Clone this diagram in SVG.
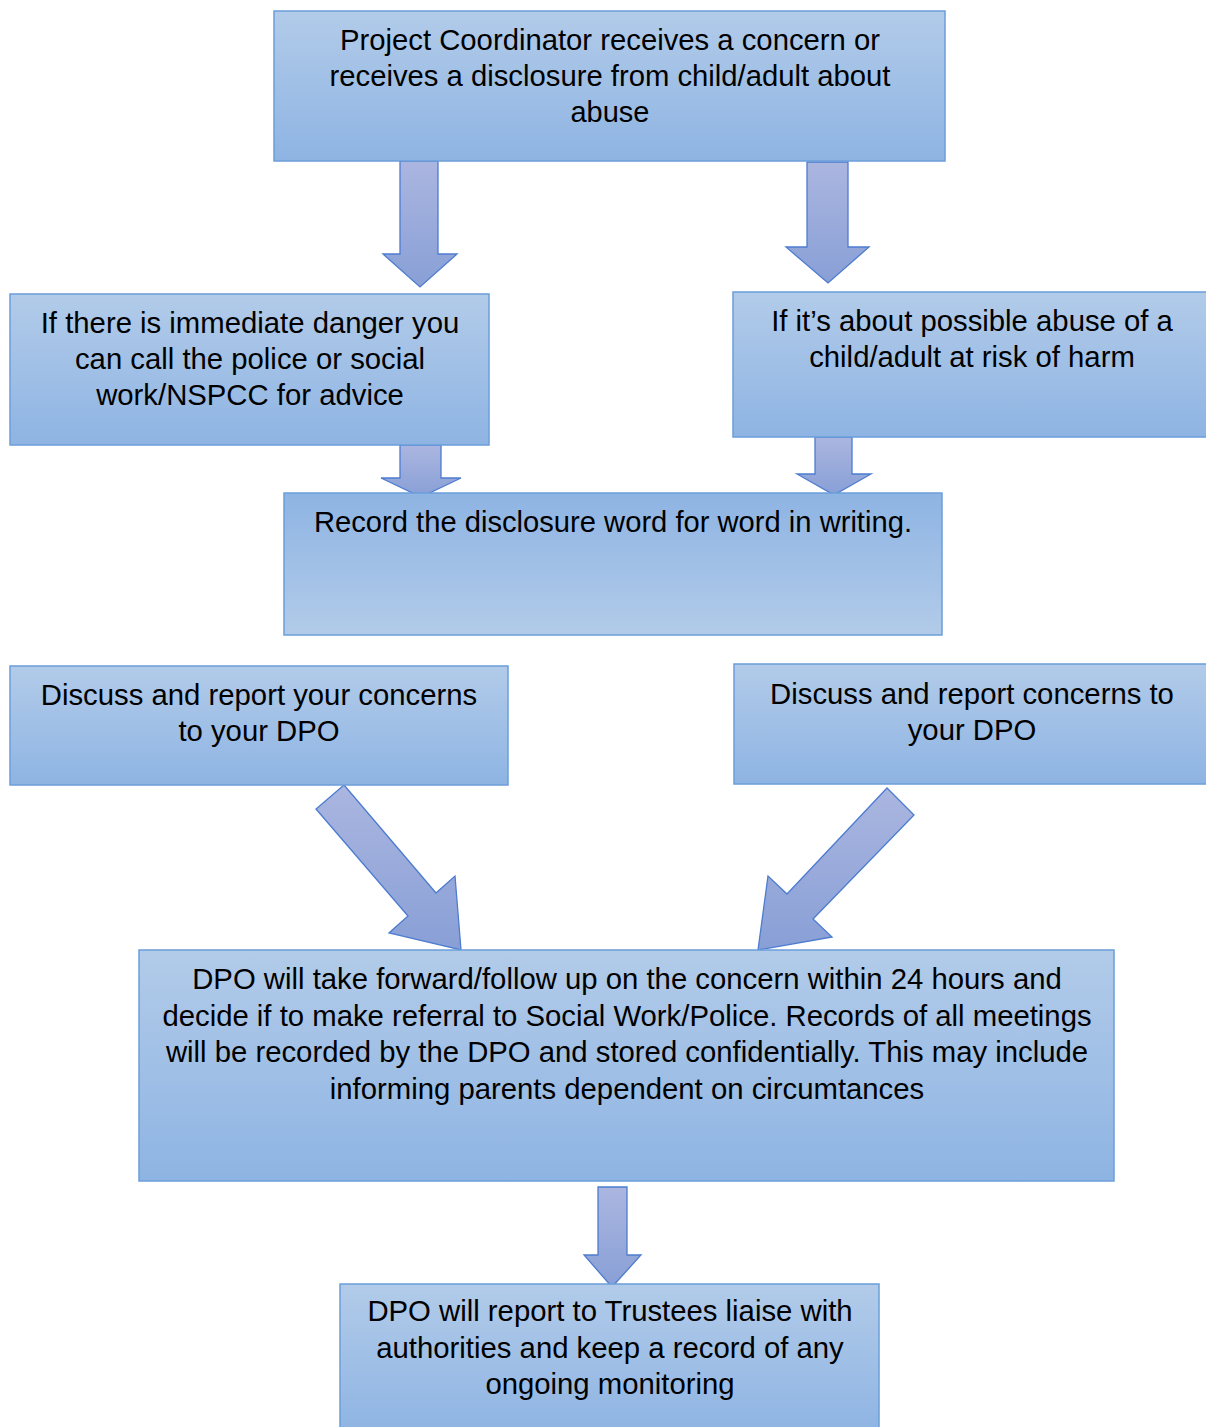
<svg xmlns="http://www.w3.org/2000/svg" width="1206" height="1427" viewBox="0 0 1206 1427">
<defs>
<linearGradient id="boxg" x1="0" y1="0" x2="0" y2="1">
<stop offset="0" stop-color="#b2cbe9"/>
<stop offset="1" stop-color="#8eb4e3"/>
</linearGradient>
<linearGradient id="boxr" x1="0" y1="0" x2="0" y2="1">
<stop offset="0" stop-color="#8eb4e3"/>
<stop offset="1" stop-color="#b2cbe9"/>
</linearGradient>
<linearGradient id="arrg" x1="0" y1="0" x2="0" y2="1">
<stop offset="0" stop-color="#abb6e0"/>
<stop offset="1" stop-color="#889fd6"/>
</linearGradient>
<style>
.box{fill:url(#boxg);stroke:#6b9fd9;stroke-width:1.5}
.boxr{fill:url(#boxr);stroke:#6b9fd9;stroke-width:1.5}
.arr{fill:url(#arrg);stroke:#4d7ccf;stroke-width:1.3;stroke-linejoin:miter}
text{font-family:"Liberation Sans",Arial,sans-serif;font-size:29.3px;fill:#000;text-anchor:middle}
</style>
</defs>
<g id="connectors">
<polygon class="arr" points="400,161 438,161 438,254 457,254 420,287 383,254 400,254"/>
<polygon class="arr" points="807,162 848,162 848,247 869,247 828,283 786,247 807,247"/>
<polygon class="arr" points="400,445 441,445 441,478 461,478 421,497 381,478 400,478"/>
<polygon class="arr" points="815,437 852,437 852,474 871,474 834,495 797,474 815,474"/>
<polygon class="arr" points="344,785 316,809 408,916 389,933 461,950 455,876 436,893"/>
<polygon class="arr" points="887,788 914,815 813,919 832,937 758,950 768,876 787,894"/>
<polygon class="arr" points="598,1187 627,1187 627,1255 641,1255 612,1287 584,1255 598,1255"/>
</g>
<g id="n1">
<rect class="box" x="274" y="11" width="671" height="150"/>
<text x="610" y="50" textLength="540" lengthAdjust="spacingAndGlyphs">Project Coordinator receives a concern or</text>
<text x="610" y="86" textLength="561" lengthAdjust="spacingAndGlyphs">receives a disclosure from child/adult about</text>
<text x="610" y="122" textLength="79" lengthAdjust="spacingAndGlyphs">abuse</text>
</g>
<g id="n2">
<rect class="box" x="10" y="294" width="479" height="151"/>
<text x="250" y="333">If there is immediate danger you</text>
<text x="250" y="369">can call the police or social</text>
<text x="250" y="405">work/NSPCC for advice</text>
</g>
<g id="n3">
<rect class="box" x="733" y="292" width="478" height="145"/>
<text x="972" y="331">If it’s about possible abuse of a</text>
<text x="972" y="367">child/adult at risk of harm</text>
</g>
<g id="n4">
<rect class="boxr" x="284" y="493" width="658" height="142"/>
<text x="613" y="532" textLength="598" lengthAdjust="spacingAndGlyphs">Record the disclosure word for word in writing.</text>
</g>
<g id="n5">
<rect class="box" x="10" y="666" width="498" height="119"/>
<text x="259" y="705">Discuss and report your concerns</text>
<text x="259" y="741">to your DPO</text>
</g>
<g id="n6">
<rect class="box" x="734" y="664" width="477" height="120"/>
<text x="972" y="704">Discuss and report concerns to</text>
<text x="972" y="740">your DPO</text>
</g>
<g id="n7">
<rect class="box" x="139" y="950" width="975" height="231"/>
<text x="627" y="989">DPO will take forward/follow up on the concern within 24 hours and</text>
<text x="627" y="1026">decide if to make referral to Social Work/Police. Records of all meetings</text>
<text x="627" y="1062">will be recorded by the DPO and stored confidentially. This may include</text>
<text x="627" y="1099">informing parents dependent on circumtances</text>
</g>
<g id="n8">
<rect class="box" x="340" y="1284" width="539" height="150"/>
<text x="610" y="1321">DPO will report to Trustees liaise with</text>
<text x="610" y="1358">authorities and keep a record of any</text>
<text x="610" y="1394">ongoing monitoring</text>
</g>
</svg>
